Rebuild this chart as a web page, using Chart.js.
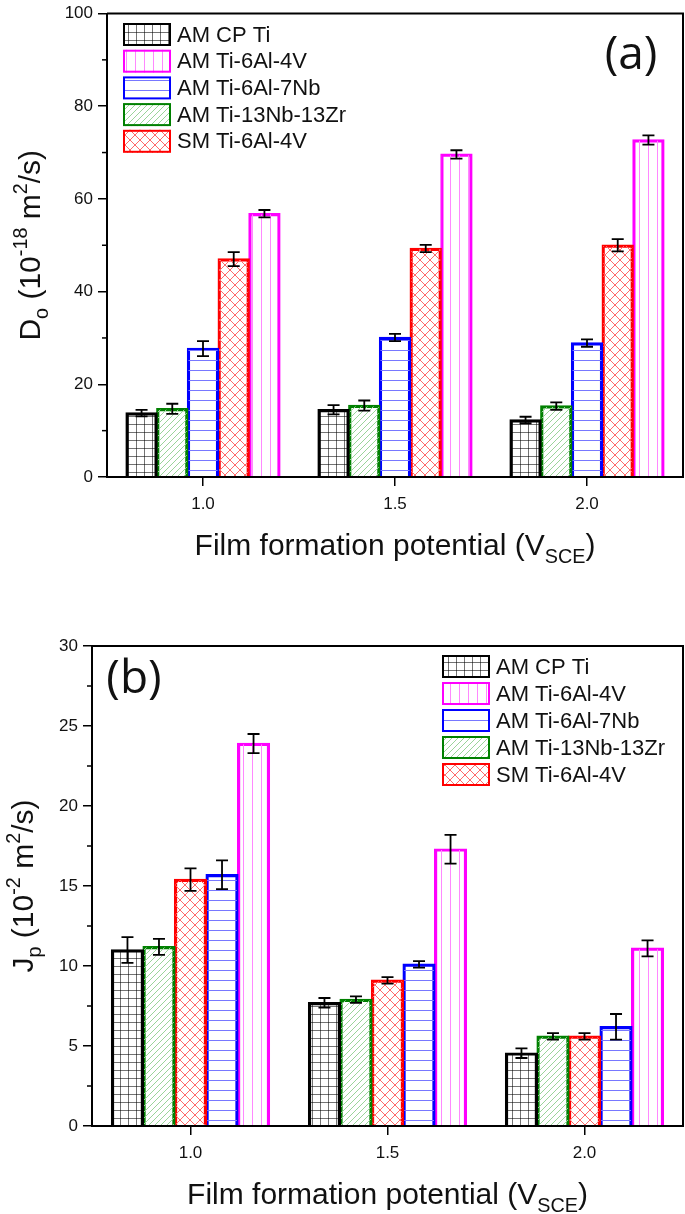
<!DOCTYPE html>
<html>
<head>
<meta charset="utf-8">
<script src="https://cdn.jsdelivr.net/npm/chart.js@4.4.0/dist/chart.umd.min.js"></script>
<style>
  body { margin: 0; background: #fff; }
  #boxA { position: absolute; left: 0; top: 0; width: 685px; height: 590px; }
  #boxB { position: absolute; left: 0; top: 590px; width: 685px; height: 624px; }
</style>
</head>
<body>
<div id="boxA"><canvas id="chartA"></canvas></div>
<div id="boxB"><canvas id="chartB"></canvas></div>
<script>
// --- Data ---
const potentials = ['1.0', '1.5', '2.0'];
const legendOrder = ['AM CP Ti', 'AM Ti-6Al-4V', 'AM Ti-6Al-7Nb', 'AM Ti-13Nb-13Zr', 'SM Ti-6Al-4V'];

// (a) Do, 10^-18 m2/s
const doCpTi = [13.8, 14.5, 12.3];
const doCpTiErr = [0.7, 1.0, 0.7];
const doTi64 = [56.8, 69.6, 72.7];
const doTi64Err = [0.8, 0.9, 1.0];
const doTi67 = [27.7, 30.1, 28.9];
const doTi67Err = [1.6, 0.8, 0.8];
const doTi1313 = [14.7, 15.4, 15.3];
const doTi1313Err = [1.1, 1.1, 0.8];
const doSm64 = [47.0, 49.3, 50.0];
const doSm64Err = [1.5, 0.8, 1.3];
const doTicks = [0, 20, 40, 60, 80, 100];

// (b) Jp, 10^-2 m2/s
const jpCpTi = [11.0, 7.7, 4.55];
const jpCpTiErr = [0.8, 0.3, 0.3];
const jpTi64 = [23.9, 17.3, 11.1];
const jpTi64Err = [0.6, 0.9, 0.5];
const jpTi67 = [15.7, 10.1, 6.2];
const jpTi67Err = [0.9, 0.2, 0.8];
const jpTi1313 = [11.2, 7.9, 5.6];
const jpTi1313Err = [0.5, 0.2, 0.2];
const jpSm64 = [15.4, 9.1, 5.6];
const jpSm64Err = [0.7, 0.2, 0.2];
const jpTicks = [0, 5, 10, 15, 20, 25, 30];

const FONT = "'Liberation Sans', Arial, sans-serif";

// --- Hatch patterns ---
function makePattern(kind) {
    const c = document.createElement('canvas');
    const g = c.getContext('2d');
    let s;
    if (kind === 'grid') {
        s = 8; c.width = s; c.height = s;
        g.strokeStyle = 'rgba(0,0,0,0.55)'; g.lineWidth = 1;
        g.beginPath(); g.moveTo(0.5, 0); g.lineTo(0.5, s); g.moveTo(0, 0.5); g.lineTo(s, 0.5); g.stroke();
    } else if (kind === 'vert') {
        s = 9; c.width = s; c.height = 4;
        g.strokeStyle = '#ff88ff'; g.lineWidth = 1;
        g.beginPath(); g.moveTo(0.5, 0); g.lineTo(0.5, 4); g.stroke();
    } else if (kind === 'horiz') {
        s = 10; c.width = 4; c.height = s;
        g.strokeStyle = '#7878ff'; g.lineWidth = 1;
        g.beginPath(); g.moveTo(0, 0.5); g.lineTo(4, 0.5); g.stroke();
    } else if (kind === 'diag') {
        s = 6; c.width = s; c.height = s;
        g.strokeStyle = '#9ad49a'; g.lineWidth = 1;
        g.beginPath(); g.moveTo(0, s); g.lineTo(s, 0); g.moveTo(-1, 1); g.lineTo(1, -1); g.moveTo(s - 1, s + 1); g.lineTo(s + 1, s - 1); g.stroke();
    } else {
        s = 10; c.width = s; c.height = s;
        g.strokeStyle = '#ff6a6a'; g.lineWidth = 1;
        g.beginPath(); g.moveTo(0, 0); g.lineTo(s, s); g.moveTo(s, 0); g.lineTo(0, s); g.stroke();
    }
    return g.createPattern(c, 'repeat');
}

const style = {
    'AM CP Ti': { border: '#000000', fill: makePattern('grid') },
    'AM Ti-6Al-4V': { border: '#ff00ff', fill: makePattern('vert') },
    'AM Ti-6Al-7Nb': { border: '#0000ff', fill: makePattern('horiz') },
    'AM Ti-13Nb-13Zr': { border: '#008000', fill: makePattern('diag') },
    'SM Ti-6Al-4V': { border: '#ff0000', fill: makePattern('cross') }
};

function ds(label, data, errors) {
    return {
        label: label, data: data, errors: errors,
        backgroundColor: style[label].fill,
        borderColor: style[label].border,
        borderWidth: 1.6,
        borderSkipped: 'bottom',
        inflateAmount: 0.8,
        barPercentage: 1.0,
        categoryPercentage: 0.8
    };
}

// --- Rich text (sub/superscripts) ---
function drawRich(ctx, parts, x, y, size) {
    const small = size * 0.66;
    let w = 0;
    parts.forEach(p => {
        ctx.font = (p[1] ? small : size) + 'px ' + FONT;
        w += ctx.measureText(p[0]).width;
    });
    let cx = x - w / 2;
    ctx.textAlign = 'left';
    ctx.textBaseline = 'alphabetic';
    parts.forEach(p => {
        ctx.font = (p[1] ? small : size) + 'px ' + FONT;
        const dy = p[1] === 1 ? -size * 0.42 : (p[1] === -1 ? size * 0.28 : 0);
        ctx.fillText(p[0], cx, y + dy);
        cx += ctx.measureText(p[0]).width;
    });
}

// --- Plugin: frame, minor ticks, error bars, legend, titles ---
const decorPlugin = {
    id: 'decor',
    afterDatasetsDraw(chart) {
        const ctx = chart.ctx;
        const o = chart.options.plugins.decor;
        const y = chart.scales.y;
        const area = chart.chartArea;
        ctx.save();
        // error bars
        ctx.strokeStyle = '#000';
        ctx.lineWidth = 1.8;
        chart.data.datasets.forEach((d, i) => {
            chart.getDatasetMeta(i).data.forEach((bar, j) => {
                const top = y.getPixelForValue(d.data[j] + d.errors[j]);
                const bot = y.getPixelForValue(d.data[j] - d.errors[j]);
                ctx.beginPath();
                ctx.moveTo(bar.x, top); ctx.lineTo(bar.x, bot);
                ctx.moveTo(bar.x - 6, top); ctx.lineTo(bar.x + 6, top);
                ctx.moveTo(bar.x - 6, bot); ctx.lineTo(bar.x + 6, bot);
                ctx.stroke();
            });
        });
        // frame top and right, redraw bottom axis over bars
        ctx.lineWidth = 2;
        ctx.beginPath();
        ctx.moveTo(area.left, area.top); ctx.lineTo(area.right, area.top); ctx.lineTo(area.right, area.bottom);
        ctx.lineTo(area.left, area.bottom);
        ctx.stroke();
        // minor ticks
        ctx.lineWidth = 1.5;
        const step = o.minorStep;
        for (let v = step; v < y.max; v += 2 * step) {
            const py = y.getPixelForValue(v);
            ctx.beginPath(); ctx.moveTo(area.left, py); ctx.lineTo(area.left - 5, py); ctx.stroke();
        }
        // legend
        const lg = o.legend;
        const items = chart.data.datasets.slice().sort((a, b) => legendOrder.indexOf(a.label) - legendOrder.indexOf(b.label));
        items.forEach((d, k) => {
            const ty = lg.y + k * lg.gap;
            ctx.fillStyle = d.backgroundColor;
            ctx.fillRect(lg.x, ty, 48, 23);
            ctx.strokeStyle = d.borderColor;
            ctx.lineWidth = 2;
            ctx.strokeRect(lg.x + 1, ty + 1, 46, 21);
            ctx.fillStyle = '#111';
            ctx.font = '22px ' + FONT;
            ctx.textAlign = 'left';
            ctx.textBaseline = 'middle';
            ctx.fillText(d.label, lg.x + 54, ty + 12.5);
        });
        // panel letter
        ctx.fillStyle = '#111';
        ctx.font = "46px 'Open Sans', 'Noto Sans', sans-serif";
        ctx.textAlign = 'center';
        ctx.textBaseline = 'middle';
        ctx.fillText(o.panel.text, o.panel.x, o.panel.y);
        // axis titles
        drawRich(ctx, [['Film formation potential (V', 0], ['SCE', -1], [')', 0]],
            (area.left + area.right) / 2, area.bottom + 78, 30);
        ctx.save();
        ctx.translate(o.yTitleX, (area.top + area.bottom) / 2);
        ctx.rotate(-Math.PI / 2);
        drawRich(ctx, o.yTitle, 0, 0, 30);
        ctx.restore();
        ctx.restore();
    }
};

function makeChart(id, datasets, cfg) {
    return new Chart(document.getElementById(id), {
        type: 'bar',
        data: { labels: potentials, datasets: datasets },
        plugins: [decorPlugin],
        options: {
            responsive: true,
            maintainAspectRatio: false,
            animation: false,
            layout: { padding: { top: cfg.padTop, right: 2, left: 0, bottom: 0 } },
            plugins: {
                legend: { display: false },
                tooltip: { enabled: false },
                decor: cfg.decor
            },
            scales: {
                x: {
                    grid: { display: true, offset: false, drawOnChartArea: false, drawTicks: true, tickLength: 9, color: '#000', lineWidth: 1.5 },
                    border: { display: true, color: '#000', width: 2 },
                    ticks: { color: '#111', padding: 8, font: { family: FONT, size: 17 } },
                    afterFit: s => { s.height = cfg.xHeight; }
                },
                y: {
                    min: 0, max: cfg.max,
                    afterBuildTicks: s => { s.ticks = cfg.ticks.map(v => ({ value: v })); },
                    grid: { display: true, drawOnChartArea: false, drawTicks: true, tickLength: 9, color: '#000', lineWidth: 1.5 },
                    border: { display: true, color: '#000', width: 2 },
                    ticks: { color: '#111', padding: 5, font: { family: FONT, size: 17, lineHeight: 1 } },
                    afterFit: s => { s.width = cfg.yWidth; }
                }
            }
        }
    });
}

const chartA = makeChart('chartA', [
    ds('AM CP Ti', doCpTi, doCpTiErr),
    ds('AM Ti-13Nb-13Zr', doTi1313, doTi1313Err),
    ds('AM Ti-6Al-7Nb', doTi67, doTi67Err),
    ds('SM Ti-6Al-4V', doSm64, doSm64Err),
    ds('AM Ti-6Al-4V', doTi64, doTi64Err)
], {
    max: 100, ticks: doTicks, padTop: 9, xHeight: 113, yWidth: 107,
    decor: {
        minorStep: 10,
        legend: { x: 123, y: 23, gap: 26.7 },
        panel: { text: '(a)', x: 631, y: 56 },
        yTitleX: 40,
        yTitle: [['D', 0], ['o', -1], [' (10', 0], ['-18', 1], [' m', 0], ['2', 1], ['/s)', 0]]
    }
});

const chartB = makeChart('chartB', [
    ds('AM CP Ti', jpCpTi, jpCpTiErr),
    ds('AM Ti-13Nb-13Zr', jpTi1313, jpTi1313Err),
    ds('SM Ti-6Al-4V', jpSm64, jpSm64Err),
    ds('AM Ti-6Al-7Nb', jpTi67, jpTi67Err),
    ds('AM Ti-6Al-4V', jpTi64, jpTi64Err)
], {
    max: 30, ticks: jpTicks, padTop: 56, xHeight: 88, yWidth: 92,
    decor: {
        minorStep: 2.5,
        legend: { x: 442, y: 65, gap: 27 },
        panel: { text: '(b)', x: 134, y: 90 },
        yTitleX: 33,
        yTitle: [['J', 0], ['p', -1], [' (10', 0], ['-2', 1], [' m', 0], ['2', 1], ['/s)', 0]]
    }
});
</script>
</body>
</html>
